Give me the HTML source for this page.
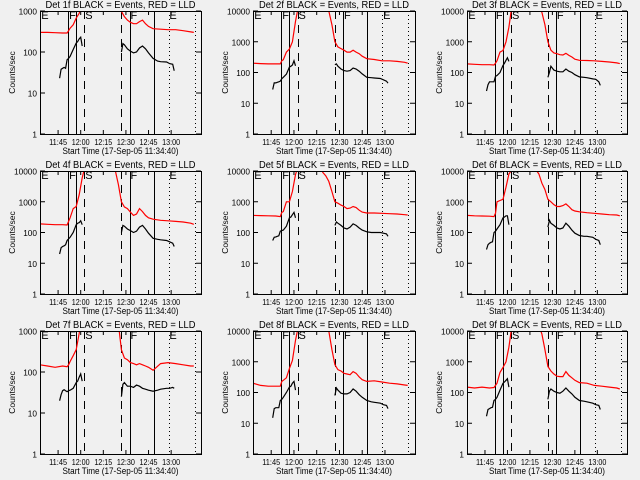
<!DOCTYPE html>
<html><head><meta charset="utf-8"><title>Det panels</title>
<style>
html,body{margin:0;padding:0;background:#f0f0f0;}
svg{display:block;font-family:"Liberation Sans",sans-serif;}
text{fill:#000;}
</style></head>
<body>
<svg id="chart" width="640" height="480" viewBox="0 0 640 480" xmlns="http://www.w3.org/2000/svg">
<rect x="0" y="0" width="640" height="480" fill="#f0f0f0"/>
</svg>
<script>
// ---- data ----
const panelTitles = ["Det 1f BLACK = Events, RED = LLD","Det 2f BLACK = Events, RED = LLD","Det 3f BLACK = Events, RED = LLD","Det 4f BLACK = Events, RED = LLD","Det 5f BLACK = Events, RED = LLD","Det 6f BLACK = Events, RED = LLD","Det 7f BLACK = Events, RED = LLD","Det 8f BLACK = Events, RED = LLD","Det 9f BLACK = Events, RED = LLD"];
const panelDecades = [3,4,4,4,4,4,3,4,4];
const xTickLabels = ["11:45","12:00","12:15","12:30","12:45","13:00"];
const xTickMinutes = [12,27,42,57,72,87];
const eventLineMinutes = [18.6,24,29.4,53.9,59.5,75.3,85.3,102.5];
const eventLineStyles = ["solid","solid","dashed","dashed","solid","solid","dotted","dotted"];
const eventLetters = ["E","F","S","F","E"];
const eventLetterMinutes = [0.8,19.3,30,60,85.8];
const redTimes = [0,5,10,15,18,19,20,22,24,26,28,30,32,36,40,44,46,48,50,52,54,56,58,60,62,64,66,68,70,72,75,80,85,90,95,100,102];
const red1 = [300,300,295,290,290,330,380,460,670,880,1500,5000,5000,5000,5000,5000,5000,5000,5000,2000,980,730,600,530,490,490,550,600,490,420,370,360,350,350,330,310,300];
const red2 = [200,195,190,190,190,240,260,460,580,1000,4600,15000,15000,15000,15000,15000,15000,15000,10000,3600,1000,680,600,530,460,460,530,460,410,340,280,265,240,240,230,215,200];
const red3 = [190,185,180,180,175,200,240,460,520,1000,3000,15000,15000,15000,15000,15000,15000,15000,9000,3600,1000,530,430,410,380,370,420,360,320,270,250,245,240,230,220,205,195];
const red4 = [190,185,180,180,175,230,300,600,700,1700,6000,15000,15000,15000,15000,15000,15000,15000,10000,3600,1000,680,600,460,360,400,600,480,360,300,270,250,240,230,220,200,185];
const red5 = [360,355,350,345,330,450,480,1000,1000,2150,7700,15000,15000,15000,15000,15000,9000,7000,4600,2150,1000,900,780,700,600,620,700,650,530,460,430,430,420,410,400,380,370];
const red6 = [360,350,345,340,330,420,1000,1100,1200,3000,8000,11000,11000,11000,11000,11000,11000,8000,4000,2500,1200,1000,800,700,700,750,850,700,550,500,470,440,420,400,380,370,350];
const red7 = [150,140,130,140,135,150,180,250,350,880,3000,15000,15000,15000,15000,15000,15000,15000,15000,1500,350,220,200,170,160,150,160,150,140,130,110,160,170,160,150,140,140];
const red8 = [200,170,160,160,160,230,250,300,600,1100,5000,15000,15000,15000,15000,15000,15000,15000,10000,2500,800,550,500,420,400,380,480,420,320,260,230,240,220,200,190,175,170];
const red9 = [150,140,150,140,145,170,200,450,650,1000,3000,15000,15000,15000,15000,15000,15000,15000,8000,2500,700,500,400,340,330,330,480,360,300,250,210,200,170,160,150,140,130];
const blackTimes = [13,14,15,16,17,18,19,20,22,24,25,26,27,28,null,54,55,56,58,60,62,64,66,68,70,72,75,78,80,84,86,88,89];
const black1 = [23,38,40,42,40,65,70,78,115,165,180,210,230,140,null,100,160,150,120,105,95,100,125,140,120,95,70,60,58,57,52,50,35];
const black2 = [28,46,46,48,50,52,63,70,88,150,160,175,240,165,null,180,190,160,130,115,110,115,140,130,110,90,70,68,66,64,58,52,45];
const black3 = [25,40,50,50,50,50,75,80,100,170,200,250,300,230,null,70,100,160,120,110,105,105,130,110,100,85,72,70,68,62,60,50,38];
const black4 = [20,32,35,37,40,55,62,70,100,180,200,210,240,180,null,100,170,160,130,115,100,110,150,170,130,95,65,60,58,55,50,45,35];
const black5 = [55,70,72,75,78,110,115,120,160,300,320,380,450,300,null,170,220,200,170,140,130,150,190,170,140,120,105,100,100,100,95,90,75];
const black6 = [28,40,45,48,50,100,110,130,180,300,320,350,350,180,null,150,250,200,170,140,130,140,200,160,120,95,80,75,75,70,60,55,40];
const black7 = [20,28,35,37,35,33,35,36,40,55,60,75,90,60,null,25,50,55,45,45,42,48,45,40,38,36,34,36,38,40,40,42,40];
const black8 = [15,30,32,32,32,55,60,70,100,150,160,200,230,120,null,80,140,120,95,90,90,100,130,110,85,70,55,50,48,45,40,38,30];
const black9 = [17,28,30,32,33,55,60,70,120,200,220,250,280,150,null,60,110,130,110,100,95,110,140,110,90,70,55,52,50,45,40,38,28];
const redSeries = [red1,red2,red3,red4,red5,red6,red7,red8,red9];
const blackSeries = [black1,black2,black3,black4,black5,black6,black7,black8,black9];

// ---- layout ----
const NS = "http://www.w3.org/2000/svg";
const svg = document.getElementById("chart");
const colLeft = [40,253,467], colRight = [201,415,627];
const rowTop = [11,171,331], boxH = 123;
const spanMin = 106.8;
function mk(tag, attrs, parent){const e=document.createElementNS(NS,tag);for(const k in attrs)e.setAttribute(k,attrs[k]);(parent||svg).appendChild(e);return e;}

for(let p=0;p<9;p++){
  const c=p%3, r=Math.floor(p/3);
  const L=colLeft[c], R=colRight[c], T=rowTop[r], B=T+boxH, W=R-L;
  const dec=panelDecades[p];
  const xs=t=>L+t/spanMin*W;
  const ys=v=>B-Math.log10(v)/dec*boxH;
  const g=mk("g",{});
  
  
  const clipId="clip"+p;
  const cp=mk("clipPath",{id:clipId},g); mk("rect",{x:L,y:T,width:W,height:boxH},cp);

  const title=mk("text",{x:(L+R)/2,y:T-3,"font-size":"10","text-anchor":"middle",textLength:"150",lengthAdjust:"spacingAndGlyphs"},g);
  title.textContent=panelTitles[p];
  
  

  // y ticks
  for(let d=0;d<=dec;d++){
    const y=ys(Math.pow(10,d));
    mk("line",{x1:L,x2:L+5,y1:y,y2:y,stroke:"#000","stroke-width":1},g);
    mk("line",{x1:R-5,x2:R,y1:y,y2:y,stroke:"#000","stroke-width":1},g);
    const lab=String(Math.pow(10,d));
    const tl=mk("text",{x:L-3,y:y+3.5,"font-size":"8.5","text-anchor":"end",textLength:String(lab.length*4.6),lengthAdjust:"spacingAndGlyphs"},g);
    tl.textContent=lab;
    
    
  }
  const yt=mk("text",{x:0,y:0,"font-size":"8.5","text-anchor":"middle",transform:`translate(${L-25},${(T+B)/2}) rotate(-90)`},g);
  yt.textContent="Counts/sec";
  
  

  // x ticks
  for(let i=0;i<xTickMinutes.length;i++){
    const x=xs(xTickMinutes[i]);
    mk("line",{x1:x,x2:x,y1:B,y2:B-4,stroke:"#000","stroke-width":1},g);
    mk("line",{x1:x,x2:x,y1:T,y2:T+4,stroke:"#000","stroke-width":1},g);
    const xl=mk("text",{x:x,y:B+11,"font-size":"8.5","text-anchor":"middle",textLength:"18",lengthAdjust:"spacingAndGlyphs"},g);
    xl.textContent=xTickLabels[i];
    
    
  }
  const xt=mk("text",{x:(L+R)/2,y:B+20,"font-size":"9","text-anchor":"middle",textLength:"116",lengthAdjust:"spacingAndGlyphs"},g);
  xt.textContent="Start Time (17-Sep-05 11:34:40)";
  
  

  // event lines
  for(let i=0;i<eventLineMinutes.length;i++){
    const x=Math.round(xs(eventLineMinutes[i]))+0.5;
    const st=eventLineStyles[i];
    const ln=mk("line",{x1:x,x2:x,y1:T,y2:B,stroke:"#000","stroke-width":1},g);
    if(st==="dashed")ln.setAttribute("stroke-dasharray","8,6");
    if(st==="dotted")ln.setAttribute("stroke-dasharray","1,3");
    
    
  }
  for(let i=0;i<eventLetters.length;i++){
    const lt=mk("text",{x:xs(eventLetterMinutes[i]),y:T+8,"font-size":"11"},g);
    lt.textContent=eventLetters[i];
    
    
  }

  // series
  function path(times,vals){
    let d="",pen=false;
    for(let i=0;i<times.length;i++){
      if(times[i]===null||vals[i]===null){pen=false;continue;}
      d+=(pen?"L":"M")+xs(times[i]).toFixed(1)+","+ys(vals[i]).toFixed(1);
      pen=true;
    }
    return d;
  }
  const rp=mk("path",{d:path(redTimes,redSeries[p]),fill:"none",stroke:"#ff0000","stroke-width":1.2,"clip-path":`url(#${clipId})`},g);
  
  
  const bp=mk("path",{d:path(blackTimes,blackSeries[p]),fill:"none",stroke:"#000","stroke-width":1.2,"clip-path":`url(#${clipId})`},g);
  
  

  const box=mk("rect",{x:L+0.5,y:T+0.5,width:W,height:boxH,fill:"none",stroke:"#000","stroke-width":1},g);
  
  
}
</script>
</body></html>
